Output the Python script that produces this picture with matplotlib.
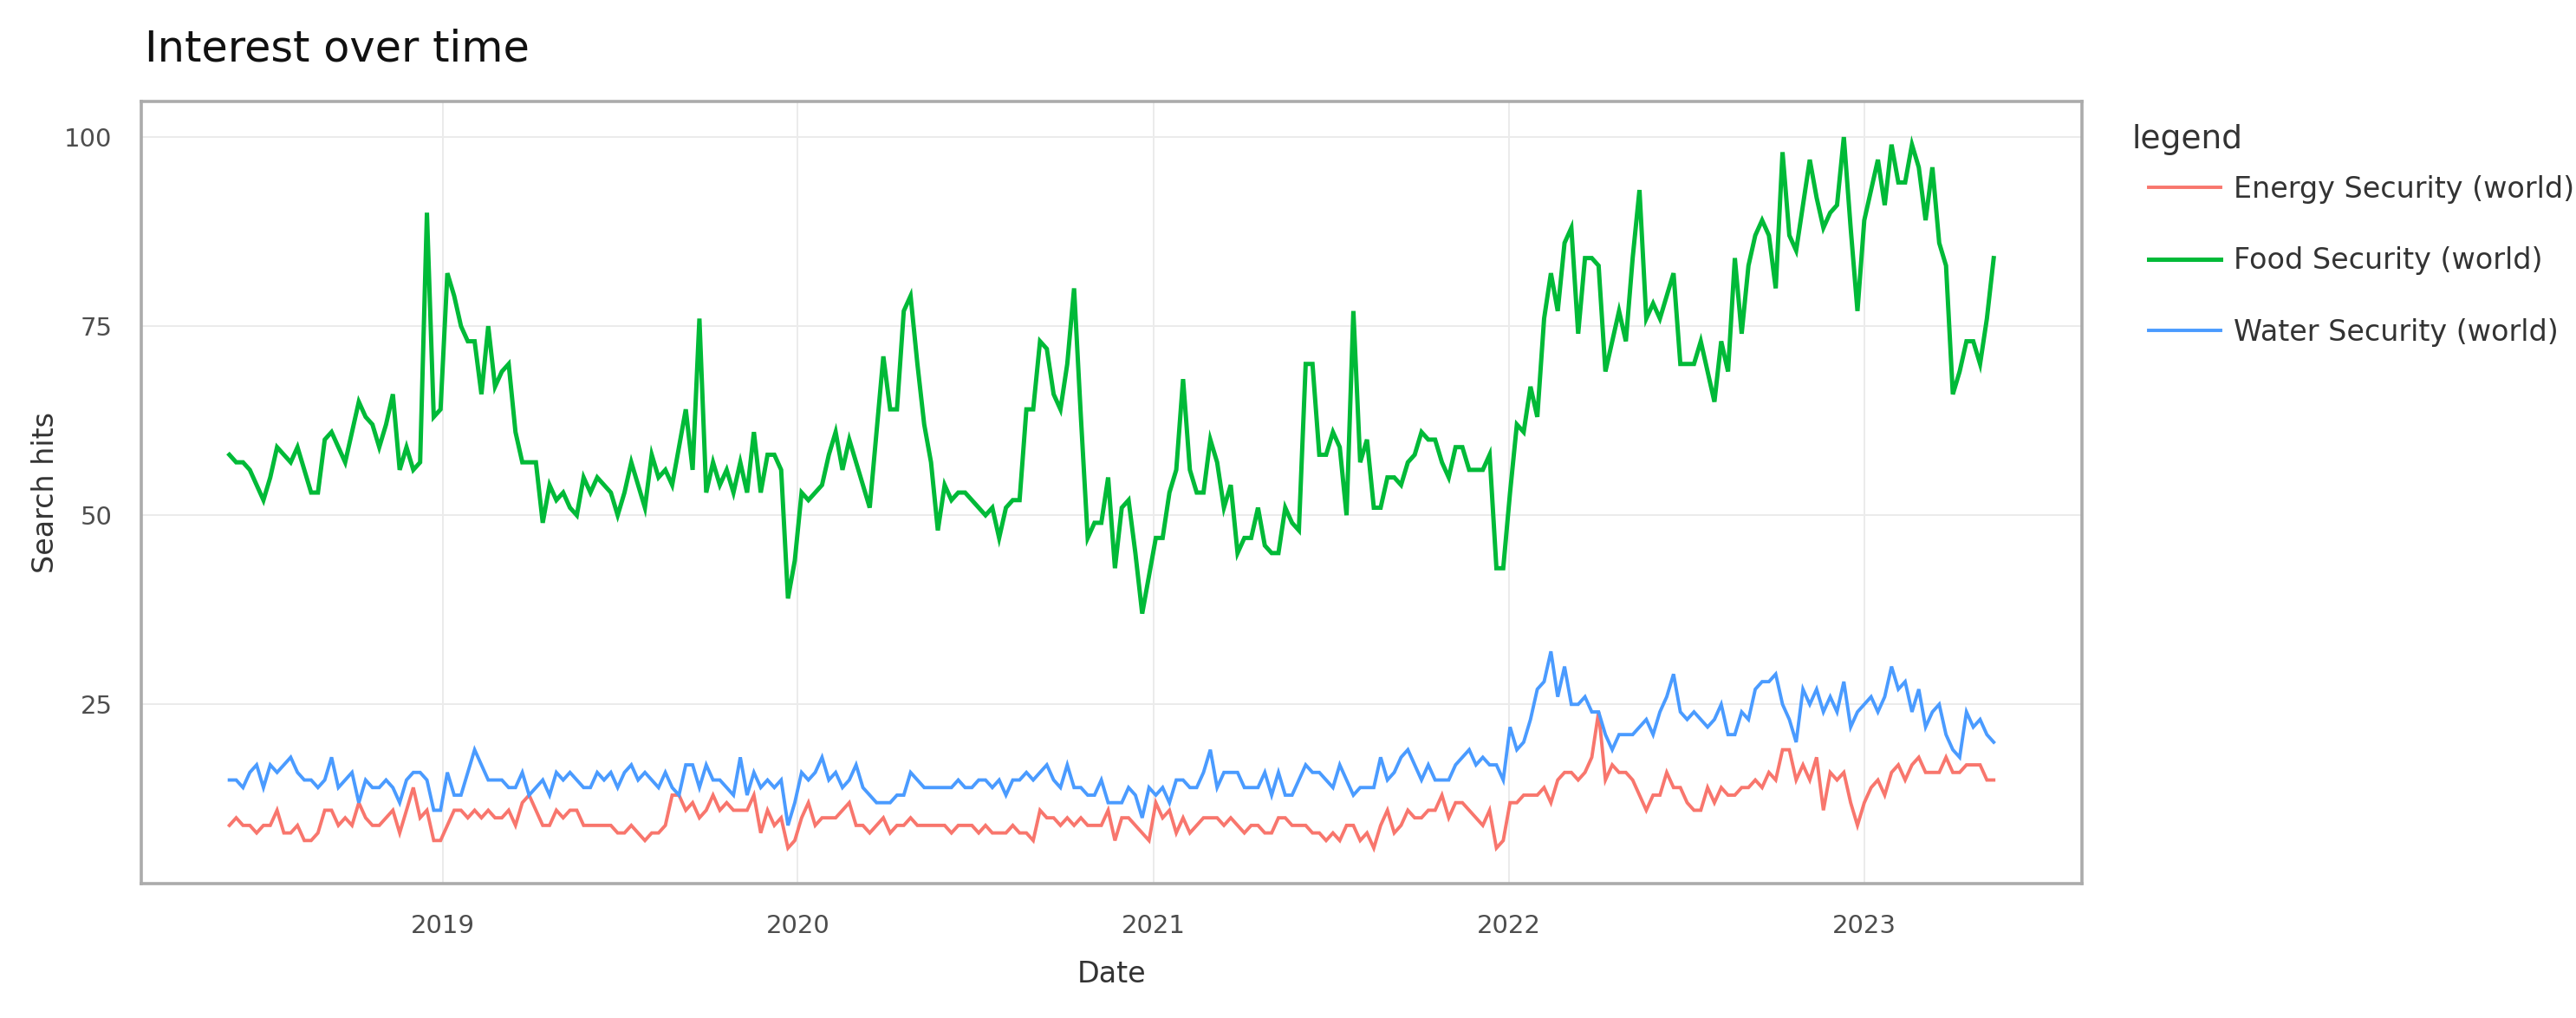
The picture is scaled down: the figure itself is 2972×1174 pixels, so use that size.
import matplotlib
matplotlib.use("Agg")
import matplotlib.pyplot as plt
import matplotlib.dates as mdates
import numpy as np
import pandas as pd

# weekly Google Trends hits, 2018-05-27 .. 2023-05-14
weeks = pd.date_range("2018-05-27", periods=260, freq="W-SUN")

food = [
    58, 57, 57, 56, 54, 52, 55, 59, 58, 57, 59, 56, 53, 53, 60, 61, 59, 57, 61, 65,
    63, 62, 59, 62, 66, 56, 59, 56, 57, 90, 63, 64, 82, 79, 75, 73, 73, 66, 75, 67,
    69, 70, 61, 57, 57, 57, 49,
    54, 52, 53, 51, 50, 55, 53, 55, 54, 53, 50, 53, 57, 54, 51, 58, 55, 56, 54, 59,
    64, 56, 76, 53, 57, 54, 56, 53, 57, 53, 61, 53, 58, 58, 56, 39, 44, 53, 52, 53,
    54, 58, 61, 56, 60, 57, 54, 51, 61, 71, 64, 64, 77, 79, 70, 62,
    57, 48, 54, 52, 53, 53, 52, 51, 50, 51, 47, 51, 52, 52, 64, 64, 73, 72, 66, 64,
    70, 80, 63, 47, 49, 49, 55, 43, 51, 52, 45, 37, 42, 47, 47, 53, 56, 68, 56, 53,
    53, 60, 57, 51, 54, 45, 47, 47, 51, 46, 45, 45, 51, 49, 48,
    70, 70, 58, 58, 61, 59, 50, 77, 57, 60, 51, 51, 55, 55, 54, 57, 58, 61, 60, 60,
    57, 55, 59, 59, 56, 56, 56, 58, 43, 43, 53, 62, 61, 67, 63, 76, 82, 77, 86, 88,
    74, 84, 84, 83, 69, 73, 77, 73, 84, 93, 76, 78, 76, 79, 82, 70, 70,
    70, 73, 69, 65, 73, 69, 84, 74, 83, 87, 89, 87, 80, 98, 87, 85, 91, 97, 92, 88,
    90, 91, 100, 88, 77, 89, 93, 97, 91, 99, 94, 94, 99, 96, 89, 96, 86, 83, 66, 69,
    73, 73, 70, 76, 84,
]

water = [
    15, 15, 14, 16, 17, 14, 17, 16, 17, 18, 16, 15, 15, 14, 15, 18, 14, 15, 16, 12,
    15, 14, 14, 15, 14, 12, 15, 16, 16, 15, 11, 11, 16, 13, 13, 16, 19, 17, 15, 15,
    15, 14, 14, 16, 13, 14, 15,
    13, 16, 15, 16, 15, 14, 14, 16, 15, 16, 14, 16, 17, 15, 16, 15, 14, 16, 14, 13,
    17, 17, 14, 17, 15, 15, 14, 13, 18, 13, 16, 14, 15, 14, 15, 9, 12, 16, 15, 16,
    18, 15, 16, 14, 15, 17, 14, 13, 12, 12, 12, 13, 13, 16, 15, 14,
    14, 14, 14, 14, 15, 14, 14, 15, 15, 14, 15, 13, 15, 15, 16, 15, 16, 17, 15, 14,
    17, 14, 14, 13, 13, 15, 12, 12, 12, 14, 13, 10, 14, 13, 14, 12, 15, 15, 14, 14,
    16, 19, 14, 16, 16, 16, 14, 14, 14, 16, 13, 16, 13, 13, 15, 17,
    16, 16, 15, 14, 17, 15, 13, 14, 14, 14, 18, 15, 16, 18, 19, 17, 15, 17, 15, 15,
    15, 17, 18, 19, 17, 18, 17, 17, 15, 22, 19, 20, 23, 27, 28, 32, 26, 30, 25, 25,
    26, 24, 24, 21, 19, 21, 21, 21, 22, 23, 21, 24, 26, 29, 24, 23,
    24, 23, 22, 23, 25, 21, 21, 24, 23, 27, 28, 28, 29, 25, 23, 20, 27, 25, 27, 24,
    26, 24, 28, 22, 24, 25, 26, 24, 26, 30, 27, 28, 24, 27, 22, 24, 25, 21, 19, 18,
    24, 22, 23, 21, 20,
]

energy = [
    9, 10, 9, 9, 8, 9, 9, 11, 8, 8, 9, 7, 7, 8, 11, 11, 9, 10, 9, 12,
    10, 9, 9, 10, 11, 8, 11, 14, 10, 11, 7, 7, 9, 11, 11, 10, 11, 10, 11, 10,
    10, 11, 9, 12, 13, 11, 9,
    9, 11, 10, 11, 11, 9, 9, 9, 9, 9, 8, 8, 9, 8, 7, 8, 8, 9, 13, 13,
    11, 12, 10, 11, 13, 11, 12, 11, 11, 11, 13, 8, 11, 9, 10, 6, 7, 10, 12, 9,
    10, 10, 10, 11, 12, 9, 9, 8, 9, 10, 8, 9, 9, 10, 9, 9,
    9, 9, 9, 8, 9, 9, 9, 8, 9, 8, 8, 8, 9, 8, 8, 7, 11, 10, 10, 9,
    10, 9, 10, 9, 9, 9, 11, 7, 10, 10, 9, 8, 7, 12, 10, 11, 8, 10, 8, 9,
    10, 10, 10, 9, 10, 9, 8, 9, 9, 8, 8, 10, 10, 9, 9, 9,
    8, 8, 7, 8, 7, 9, 9, 7, 8, 6, 9, 11, 8, 9, 11, 10, 10, 11, 11, 13,
    10, 12, 12, 11, 10, 9, 11, 6, 7, 12, 12, 13, 13, 13, 14, 12, 15, 16, 16, 15,
    16, 18, 24, 15, 17, 16, 16, 15, 13, 11, 13, 13, 16, 14, 14, 12,
    11, 11, 14, 12, 14, 13, 13, 14, 14, 15, 14, 16, 15, 19, 19, 15, 17, 15, 18, 11,
    16, 15, 16, 12, 9, 12, 14, 15, 13, 16, 17, 15, 17, 18, 16, 16, 16, 18, 16, 16,
    17, 17, 17, 15, 15,
]

labels = ["Energy Security (world)", "Food Security (world)", "Water Security (world)"]
colors = ["#F8766D", "#00BA38", "#4A9BFF"]
widths = [1.4, 1.8, 1.4]
year_ticks = ["2019", "2020", "2021", "2022", "2023"]

fig = plt.figure(figsize=(14.86, 5.87), dpi=200)
ax = fig.add_axes([0.0548, 0.1320, 0.7534, 0.7683])

for series, lab, col, lw in zip([energy, food, water], labels, colors, widths):
    ax.plot(weeks, series, color=col, lw=lw, label=lab, solid_joinstyle="miter")

# ggplot-style 5% expansion on both axes
span = weeks[-1] - weeks[0]
ax.set_xlim(weeks[0] - span * 0.05, weeks[-1] + span * 0.05)
ax.set_ylim(1.3, 104.7)

ax.set_xticks([pd.Timestamp(y + "-01-01") for y in year_ticks])
ax.xaxis.set_major_formatter(mdates.DateFormatter("%Y"))
ax.set_yticks([25, 50, 75, 100])

ax.grid(True, color="#EBEBEB", lw=0.7)
ax.set_axisbelow(True)
for s in ax.spines.values():
    s.set_color("#ABABAB")
    s.set_linewidth(1.3)
ax.tick_params(length=0, labelsize=10.5, labelcolor="#4D4D4D")
ax.tick_params(axis="x", pad=12.5)
ax.tick_params(axis="y", pad=12)

ax.set_xlabel("Date", fontsize=12, color="#333333", labelpad=9)
ax.set_ylabel("Search hits", fontsize=12, color="#333333", labelpad=2)

fig.text(0.0562, 0.952, "Interest over time", fontsize=17.8, va="center", ha="left", color="#111111")

# legend title placed by hand, ggplot puts it close above the keys
fig.text(0.8274, 0.863, "legend", fontsize=13.5, va="center", ha="left", color="#333333")
leg = fig.legend(loc="upper left", bbox_to_anchor=(0.8285, 0.842), frameon=False,
                 fontsize=12, handlelength=2.5, handletextpad=0.45,
                 labelspacing=1.48, borderpad=0)
for t in leg.get_texts():
    t.set_color("#333333")

fig.savefig("out.png", dpi=200, facecolor="white")
